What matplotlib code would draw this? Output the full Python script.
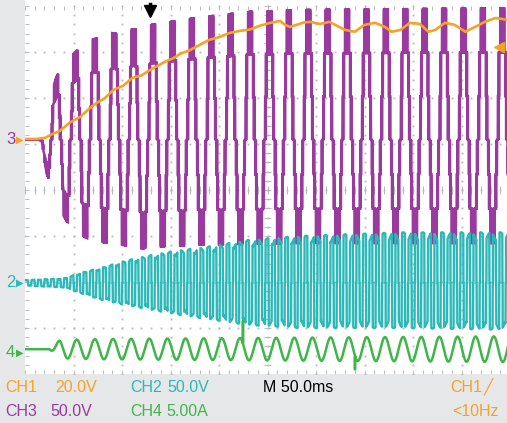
import numpy as np
import matplotlib.pyplot as plt

plt.rcParams['font.family'] = ['Liberation Sans', 'DejaVu Sans']

# scope settings shown on screen
ms_per_div = 50.0
ch1_v_div = 20.0
ch2_v_div = 50.0
ch3_v_div = 50.0
ch4_a_div = 5.0

# ground markers, divisions above centre
ch1_pos = 1.09
ch2_pos = -2.02
ch3_pos = 1.09
ch4_pos = -3.46

# CH1 (orange): ms, volts
ch1_t = [0, 12, 21, 28, 36, 46, 57, 66, 74, 82, 91, 101, 111, 120, 129, 138, 146, 153, 160,
         170, 180, 190, 201, 211, 222, 232, 242, 253, 263, 268, 273, 280, 287, 294, 304, 314,
         322, 330, 340, 350, 361, 371, 378, 387, 397, 407, 416, 423, 433, 443, 454, 464, 474,
         485, 497, 500]
ch1_v = [0.4, 0.4, 0.9, 2.5, 3.9, 7.5, 10.0, 13.5, 16.1, 18.0, 21.7, 23.5, 27.0, 28.0, 30.4,
         32.5, 34.3, 35.5, 37.4, 39.0, 41.3, 43.5, 44.8, 46.5, 47.4, 48.0, 49.6, 50.9, 51.7,
         50.0, 49.1, 50.0, 51.0, 51.3, 50.4, 51.3, 49.5, 47.8, 47.0, 50.0, 50.9, 49.1, 47.0,
         47.8, 50.9, 50.4, 47.0, 47.8, 50.9, 50.0, 47.0, 49.1, 51.3, 53.0, 52.2, 52.0]

# CH3 (purple) envelope of the staircase output: ms, peak volts (upper / lower)
ch3_env_t = [0, 15.5, 22.7, 33, 43.3, 48.5, 60.8, 69, 80.4, 89.7, 101, 110, 120.6, 131, 180, 232, 283, 500]
ch3_top_v = [0, 0, 38, 70, 89, 92, 105, 109, 111, 116, 114, 120, 120, 125, 133, 139, 141, 143]
ch3_bot_v = [0, 0, 38, 70, 89, 92, 105, 109, 111, 113, 114, 116, 118, 116, 114, 113, 112, 112]
ch3_freq = 50.0        # Hz
ch3_t0 = 7.0           # ms, zero crossing
ch3_levels = 3         # cells per half
ch3_index = 2.9        # modulation index in levels
ch3_carrier = 0.8      # ms

# CH2 (cyan) envelope: ms, upper and lower bar heights in volts
ch2_env_t = [0, 41, 57, 77, 103, 129, 155, 180, 232, 283, 387, 500]
ch2_top_v = [3, 5, 11, 16, 24, 30, 35, 38, 47, 51, 55, 55]
ch2_bot_v = [3, 5, 11, 18, 24, 29, 34, 38, 46, 49, 49, 51]
ch2_period = 6.7       # ms
ch2_width = 3.0        # ms

# CH4 (green) phase current: ms, peak amps
ch4_env_t = [0, 25, 36, 77, 283, 500]
ch4_env_a = [0, 0, 1.0, 1.1, 1.25, 1.4]
ch4_freq = 53.5
ch4_t0 = 30.0
ch4_spike_t = [224.7, 340.2]
ch4_spike_a = [3.1, -2.2]

trig_t = 129.0
trig_v = 40.4

purple = '#9b3a9e'
orange = '#f6a324'
cyan = '#2bb8b8'
green = '#3fb54a'
grid_c = '#b9b9b9'

t = np.arange(0, 500.01, 0.05)

# purple: level-shifted PWM staircase
top3 = np.interp(t, ch3_env_t, ch3_top_v)
bot3 = np.interp(t, ch3_env_t, ch3_bot_v)
m = ch3_index * np.sin(2 * np.pi * ch3_freq * (t - ch3_t0) / 1000)
car = np.abs(((t / ch3_carrier) % 1) * 2 - 1)
lev = np.floor(m) + ((m - np.floor(m)) > car)
lev = np.clip(lev, -ch3_levels, ch3_levels)
v3 = np.where(lev > 0, lev * top3, lev * bot3) / ch3_levels

# cyan: bipolar pulse train
top2 = np.interp(t, ch2_env_t, ch2_top_v)
bot2 = np.interp(t, ch2_env_t, ch2_bot_v)
shade = 0.84 + 0.16 * np.abs(np.cos(2 * np.pi * ch3_freq * t / 1000))
ph = (t % ch2_period) / ch2_period
frac = ch2_width / ch2_period
v2 = np.where(ph < frac, top2 * shade, np.where((ph >= 0.5) & (ph < 0.5 + frac), -bot2 * shade, 0))

# green: current
amp4 = np.interp(t, ch4_env_t, ch4_env_a)
i4 = amp4 * np.sin(2 * np.pi * ch4_freq * (t - ch4_t0) / 1000)
for st, sa in zip(ch4_spike_t, ch4_spike_a):
    i4[np.argmin(np.abs(t - st))] = sa

fig = plt.figure(figsize=(5.07, 4.23), dpi=100)
fig.patch.set_facecolor('#e6e7e9')
ax = fig.add_axes([25 / 507, 49 / 423, 485 / 507, 374 / 423])
ax.set_facecolor('white')
ax.set_xlim(0, 10 * ms_per_div)
ax.set_ylim(-4, 4 + 6 / 46)
for s in ax.spines.values():
    s.set_visible(False)
ax.set_xticks([])
ax.set_yticks([])

# graticule dots
xs_major = np.arange(1, 10) * ms_per_div
ys_major = np.arange(-3, 4)
ys_minor = np.arange(-4, 4.01, 0.2)
xs_minor = np.arange(0, 500.1, 10)
gx, gy = np.meshgrid(xs_major, ys_minor)
ax.plot(gx.ravel(), gy.ravel(), 's', ms=1.3, color=grid_c, mew=0)
gx, gy = np.meshgrid(xs_minor, ys_major)
ax.plot(gx.ravel(), gy.ravel(), 's', ms=1.3, color=grid_c, mew=0)
# centre and edge ticks
ax.hlines(ys_minor, 250 - 4, 250 + 4, color=grid_c, lw=0.7)
ax.vlines(xs_minor, -0.08, 0.08, color=grid_c, lw=0.7)
ax.hlines(ys_minor, 0, 4, color=grid_c, lw=0.7)
ax.vlines(xs_minor, -4, -3.92, color=grid_c, lw=0.7)
ax.vlines(xs_minor, 3.92, 4, color=grid_c, lw=0.7)

ax.plot(t, ch3_pos + v3 / ch3_v_div, color=purple, lw=1.8, solid_joinstyle='miter')
ax.plot(t, ch2_pos + v2 / ch2_v_div, color=cyan, lw=1.7)
ax.plot(t, ch4_pos + i4 / ch4_a_div, color=green, lw=1.8)
ax.plot(ch1_t, ch1_pos + np.array(ch1_v) / ch1_v_div, color=orange, lw=1.9)

# trigger marks
ax.plot([trig_t], [4 - 0.1], marker='v', ms=8, color='black', clip_on=False)
ax.plot([trig_t, trig_t], [4 + 0.05, 3.85], color='black', lw=2.5, clip_on=False)
ax.plot([489], [ch1_pos + trig_v / ch1_v_div], marker='<', ms=7, color=orange, clip_on=False)

# channel ground markers
def marker(label, pos, col, arrow_col=None):
    yf = (49 + (pos + 4) * 46) / 423
    fig.text(6 / 507, yf, label, color=col, fontsize=12, va='center', ha='left')
    fig.text(16 / 507, yf, '\u25b6', color=arrow_col or col, fontsize=7, va='center', ha='left',
             family='DejaVu Sans')

marker('3', ch3_pos, purple, orange)
marker('2', ch2_pos, cyan)
marker('4', ch4_pos - 0.07, green)

# readout
def txt(x, y, s, col):
    fig.text(x / 507, 1 - y / 423, s, color=col, fontsize=11.5, va='center', ha='left')

txt(5, 387, 'CH1', orange)
txt(55, 387, '20.0V', orange)
txt(130, 387, 'CH2', cyan)
txt(167, 387, '50.0V', cyan)
txt(263, 387, 'M 50.0ms', 'black')
txt(450, 387, 'CH1', orange)
fig.text(484 / 507, 1 - 387 / 423, '\u2571', color=orange, fontsize=11, va='center', ha='left',
         family='DejaVu Sans')
txt(5, 411, 'CH3', purple)
txt(50, 411, '50.0V', purple)
txt(130, 411, 'CH4', green)
txt(166, 411, '5.00A', green)
txt(452, 411, '<10Hz', orange)

fig.savefig('out.png', dpi=100, facecolor=fig.get_facecolor())
